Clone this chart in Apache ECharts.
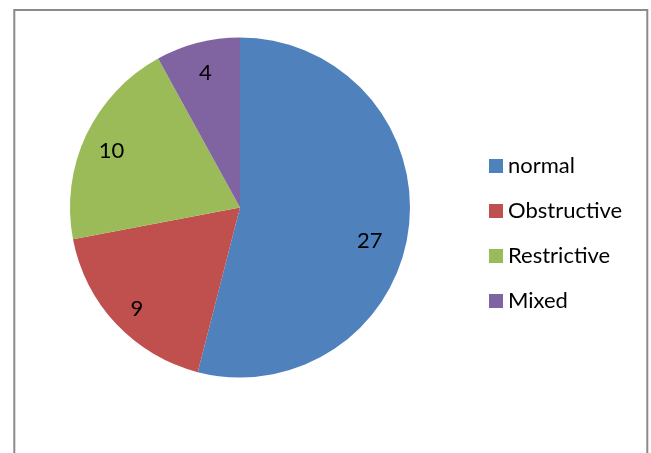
<!DOCTYPE html>
<html>
<head>
<meta charset="utf-8">
<script src="https://cdn.jsdelivr.net/npm/echarts@6/dist/echarts.min.js"></script>
<style>
  html, body { margin: 0; padding: 0; background: #ffffff; }
  #chart { width: 651px; height: 453px; }
</style>
</head>
<body>
<div id="chart"></div>
<script>
// Spirometry pattern counts
const categories = ['normal', 'Obstructive', 'Restrictive', 'Mixed'];
const counts = [27, 9, 10, 4];
const colors = ['#4F81BD', '#C0504D', '#9BBB59', '#8064A2'];

const FONT = 'Lato, "Open Sans", sans-serif';
const CENTER = [240, 207.5];
const RADIUS = 170;

const pieData = categories.map((name, i) => ({
  name: name,
  value: counts[i],
  itemStyle: { color: colors[i] }
}));

// label-only ring so values sit near the outer part of each slice
const labelData = categories.map((name, i) => ({
  name: name,
  value: counts[i],
  label: { offset: name === 'normal' ? [-12, 15] : [1, 4] }
}));

const chart = echarts.init(document.getElementById('chart'), null, { renderer: 'canvas' });

chart.setOption({
  backgroundColor: '#ffffff',
  animation: false,
  color: colors,
  graphic: [{
    type: 'rect',
    silent: true,
    shape: { x: 14.3, y: 10, width: 633, height: 500 },
    style: { fill: 'none', stroke: '#8a8a8a', lineWidth: 2 }
  }],
  legend: {
    orient: 'vertical',
    left: 489,
    top: 154,
    padding: 0,
    itemWidth: 14,
    itemHeight: 14,
    itemGap: 21,
    icon: 'rect',
    data: categories,
    textStyle: {
      fontFamily: FONT,
      fontSize: 22,
      lineHeight: 24,
      color: '#000000'
    }
  },
  series: [
    {
      type: 'pie',
      center: CENTER,
      radius: [0, RADIUS],
      startAngle: 90,
      clockwise: true,
      silent: true,
      label: { show: false },
      labelLine: { show: false },
      itemStyle: { borderWidth: 0 },
      data: pieData
    },
    {
      type: 'pie',
      center: CENTER,
      radius: [110, RADIUS],
      startAngle: 90,
      clockwise: true,
      silent: true,
      legendHoverLink: false,
      itemStyle: { color: 'rgba(0,0,0,0)', borderWidth: 0 },
      label: {
        show: true,
        position: 'inside',
        formatter: '{c}',
        fontFamily: FONT,
        fontSize: 22,
        color: '#000000'
      },
      labelLine: { show: false },
      data: labelData
    }
  ]
});
</script>
</body>
</html>
